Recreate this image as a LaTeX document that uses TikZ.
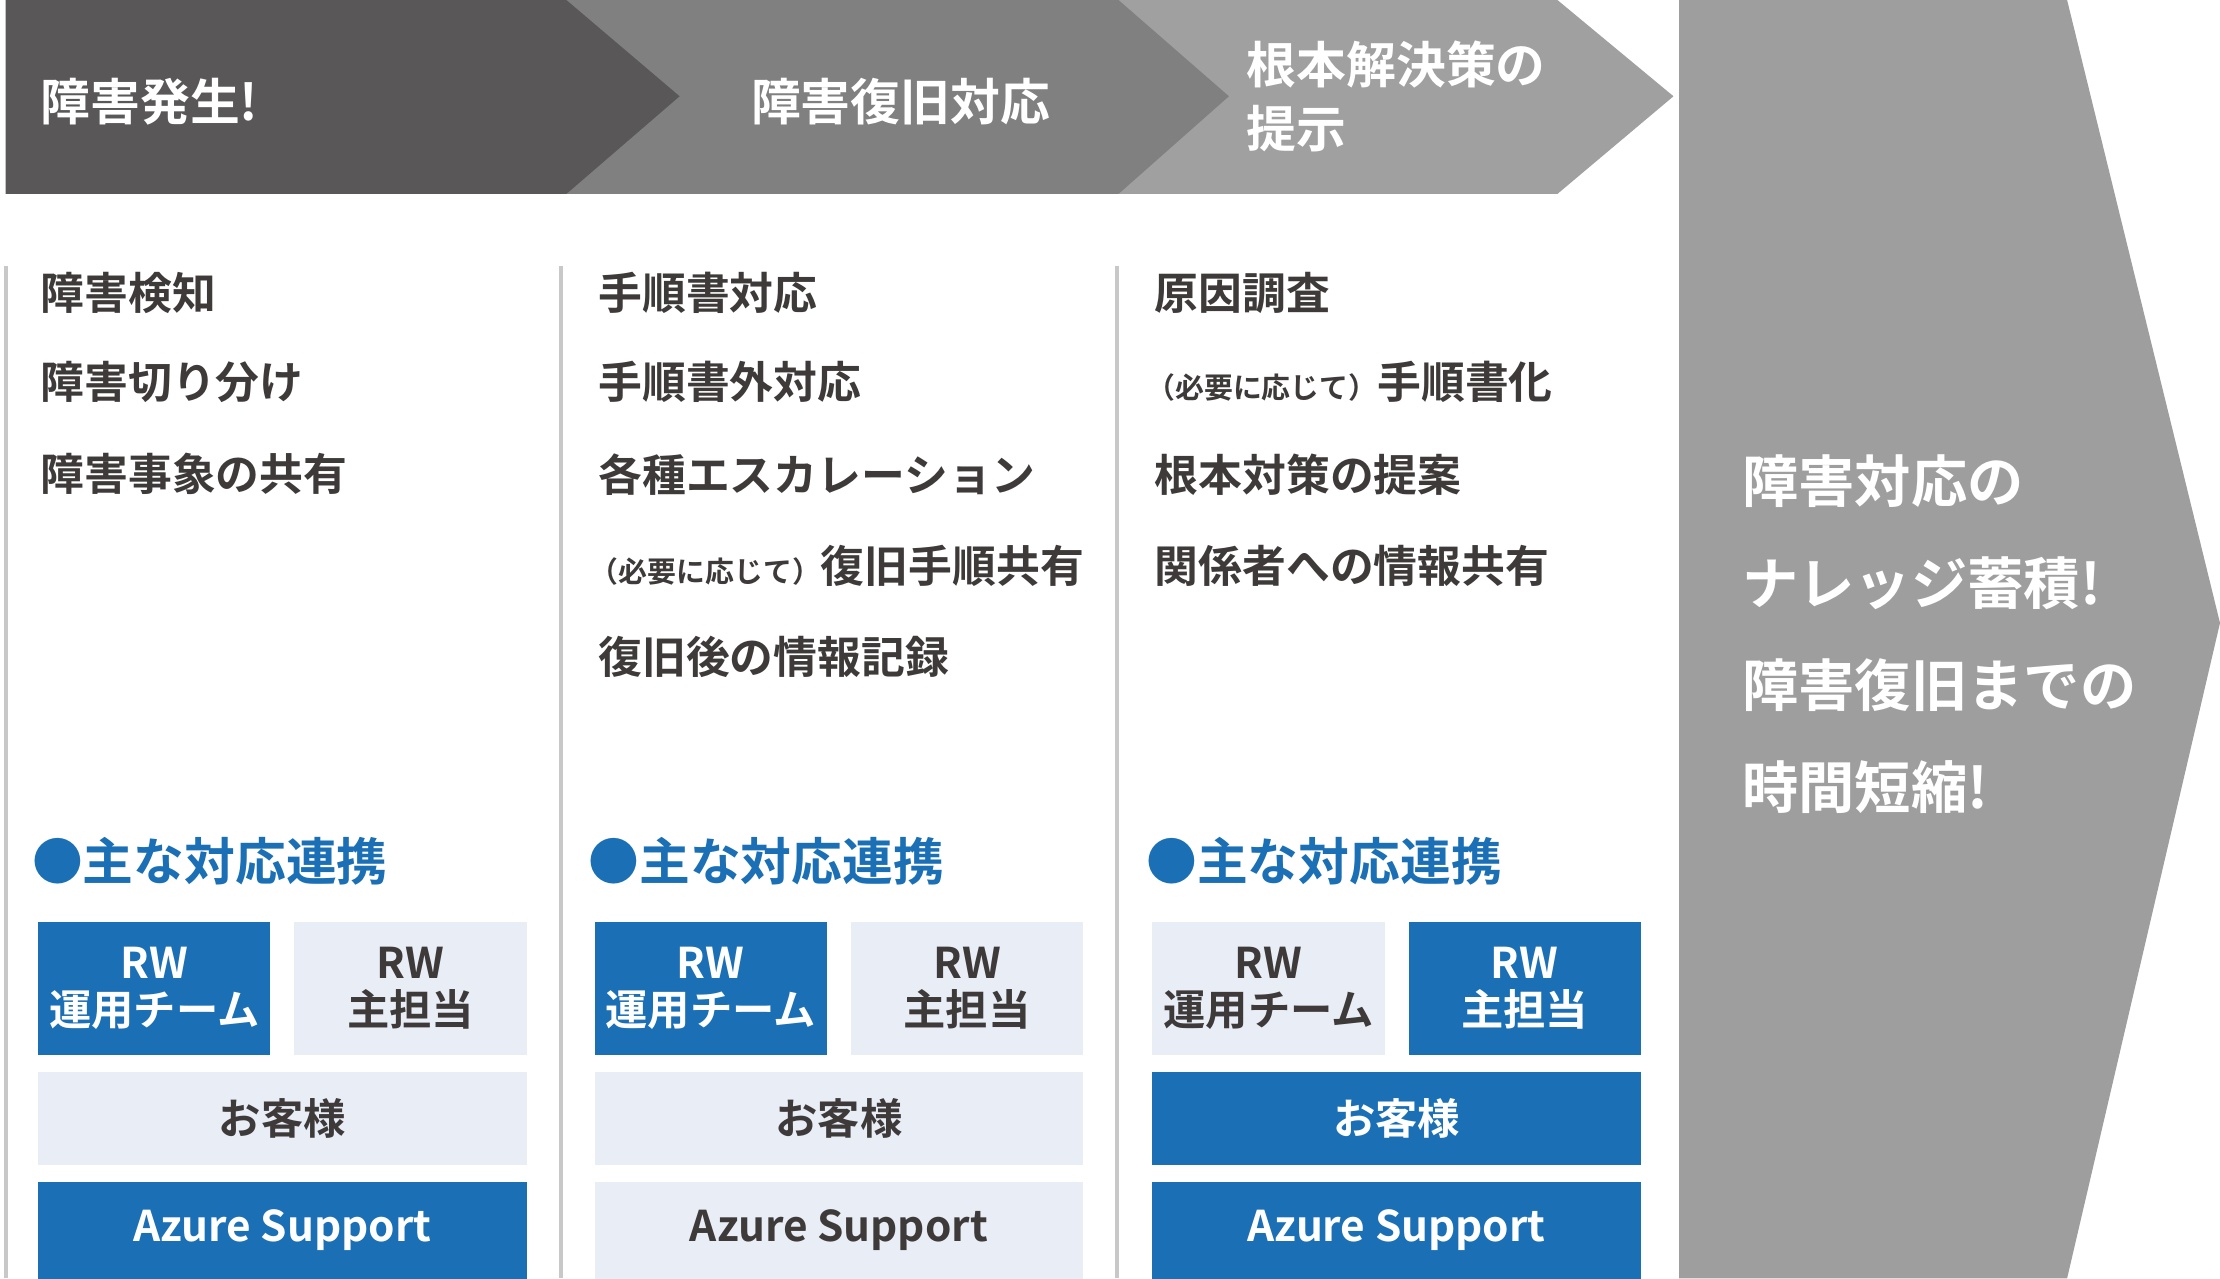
\documentclass[tikz,border=0pt]{standalone}
\usepackage{fontspec}
\newfontfamily\jp{Noto Sans CJK JP}[BoldFont={Noto Sans CJK JP Bold}]
\definecolor{c1}{HTML}{595757}
\definecolor{c2}{HTML}{808080}
\definecolor{c3}{HTML}{A0A0A0}
\definecolor{cbig}{HTML}{9E9E9E}
\definecolor{txt}{HTML}{3E3A39}
\definecolor{blu}{HTML}{1A6FB5}
\definecolor{lite}{HTML}{E8EDF6}
\definecolor{sep}{HTML}{C8C8C8}
\newcommand{\smallnote}[1]{{\fontsize{5.8pt}{6pt}\selectfont #1}}
\begin{document}
\begin{tikzpicture}[x=0.01cm,y=-0.01cm,
  item/.style={anchor=west,inner sep=0,text=txt,font=\jp\bfseries\fontsize{8.8pt}{9pt}\selectfont},
  head/.style={inner sep=0,text=white,font=\jp\bfseries\fontsize{10pt}{13pt}\selectfont},
  sub/.style={anchor=west,inner sep=0,text=blu,font=\jp\bfseries\fontsize{10.2pt}{10pt}\selectfont},
  bon/.style={fill=blu,text=white,draw=none,inner sep=0,align=center,font=\jp\bfseries\fontsize{8.5pt}{9.6pt}\selectfont},
  boff/.style={fill=lite,text=txt,draw=none,inner sep=0,align=center,font=\jp\bfseries\fontsize{8.5pt}{9.6pt}\selectfont},
  big/.style={anchor=west,inner sep=0,text=white,font=\jp\bfseries\fontsize{11.3pt}{12pt}\selectfont}]
\useasboundingbox (0,0) rectangle (1568,903);
\fill[white] (0,0) rectangle (1568,903);
% chevrons
\fill[c3] (790,0)--(1100,0)--(1182,68)--(1100,137)--(790,137)--cycle;
\fill[c2] (400,0)--(790,0)--(868,68)--(790,137)--(400,137)--cycle;
\fill[c1] (4,0)--(400,0)--(480,68)--(400,137)--(4,137)--cycle;
\fill[cbig] (1186,0)--(1460,0)--(1568,440)--(1460,903)--(1186,903)--cycle;
\node[head,anchor=west] (h1) at (28,72) {障害発生!};
\node[head] (h2) at (636,72) {障害復旧対応};
\node[head,anchor=west,align=left] (h3) at (880,68) {根本解決策の\\提示};
% separators
\foreach \x/\n in {4/s1,396/s2,789/s3}{
  \coordinate (\n a) at (\x,188); \coordinate (\n b) at (\x,903);
  \draw[sep,line width=0.03cm] (\n a)--(\n b);}
% column 1
\node[item] (a1) at (28,207) {障害検知};
\node[item] (a2) at (28,270) {障害切り分け};
\node[item] (a3) at (28,335) {障害事象の共有};
% column 2
\node[item] (b1) at (422,207) {手順書対応};
\node[item] (b2) at (422,270) {手順書外対応};
\node[item] (b3) at (422,335) {各種エスカレーション};
\node[item] (b4) at (416,400) {\smallnote{（必要に応じて）}復旧手順共有};
\node[item] (b5) at (422,464) {復旧後の情報記録};
% column 3
\node[item] (c1n) at (815,207) {原因調査};
\node[item] (c2n) at (809,270) {\smallnote{（必要に応じて）}手順書化};
\node[item] (c3n) at (815,335) {根本対策の提案};
\node[item] (c4n) at (815,400) {関係者への情報共有};
% blocks
\foreach \dx/\n/\sa/\sb/\sc/\sd in {0/p/bon/boff/boff/bon, 393/q/bon/boff/boff/boff, 787/r/boff/bon/bon/bon}{
  \node[sub] (\n h) at (22+\dx,608) {●主な対応連携};
  \node[\sa,minimum width=1.64cm,minimum height=0.94cm] (\n 1) at (109+\dx,698) {RW\\運用チーム};
  \node[\sb,minimum width=1.64cm,minimum height=0.94cm] (\n 2) at (290+\dx,698) {RW\\主担当};
  \node[\sc,minimum width=3.45cm,minimum height=0.66cm] (\n 3) at (199.5+\dx,790) {お客様};
  \node[\sd,minimum width=3.45cm,minimum height=0.68cm] (\n 4) at (199.5+\dx,869) {Azure Support};
}
% right text
\node[big] (r1) at (1230,340) {障害対応の};
\node[big] (r2) at (1230,412) {ナレッジ蓄積!};
\node[big] (r3) at (1230,484) {障害復旧までの};
\node[big] (r4) at (1230,556) {時間短縮!};
\end{tikzpicture}
\end{document}
